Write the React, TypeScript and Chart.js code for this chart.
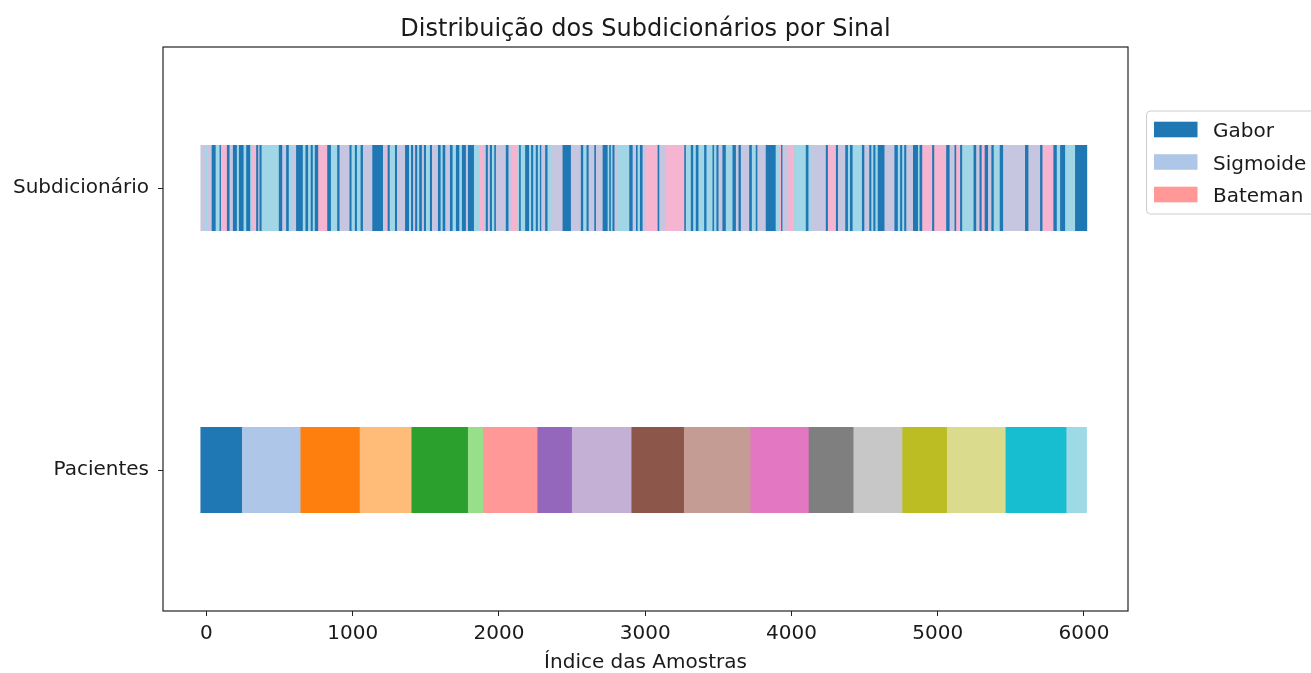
import React, { useEffect, useRef } from 'react';
import { Chart, registerables } from 'chart.js';

Chart.register(...registerables);

const chartTitle = 'Distribuição dos Subdicionários por Sinal';
const xAxisTitle = 'Índice das Amostras';
const rowLabels = ['Subdicionário', 'Pacientes'];
const xTickValues = [0, 1000, 2000, 3000, 4000, 5000, 6000];
const xMin = -297;
const xMax = 6301;

const legendLabels = ['Gabor', 'Sigmoide', 'Bateman'];
const legendColors = ['#1f77b4', '#aec7e8', '#ff9896'];

// samples per patient, in order along the index axis
const pacientesCounts = [284, 400, 405, 354, 386, 103, 372, 236, 407, 359, 454, 399, 306, 334, 305, 401, 416, 59];
const pacientesColors = [
  '#1f77b4', '#aec7e8', '#ff7f0e', '#ffbb78', '#2ca02c', '#98df8a', '#ff9896', '#9467bd', '#c5b0d5',
  '#8c564b', '#c49c94', '#e377c2', '#7f7f7f', '#c7c7c7', '#bcbd22', '#dbdb8d', '#17becf', '#9edae5',
];

// stripe colours seen in the sub-dictionary row
const stripeColors = ['#1f77b4', '#a0d6e6', '#f5b4cf', '#c6c6e0'];
// [stripe colour index, number of samples]
const subdictRuns: [number, number][] = [
  [3, 36], [1, 9], [3, 32], [0, 27], [1, 27], [0, 9], [2, 41], [0, 18], [3, 23], [0, 27],
  [1, 14], [0, 32], [1, 18], [0, 27], [1, 14], [2, 27], [0, 14], [3, 9], [0, 14], [1, 118],
  [0, 23], [3, 27], [0, 18], [1, 23], [3, 27], [0, 46], [1, 18], [0, 18], [1, 18], [0, 14],
  [1, 14], [0, 23], [2, 62], [0, 25], [1, 43], [0, 16], [3, 68], [0, 14], [1, 23], [0, 14],
  [1, 25], [0, 16], [3, 64], [0, 73], [3, 18], [2, 14], [0, 14], [1, 36], [0, 14], [3, 55],
  [0, 27], [1, 14], [0, 14], [3, 14], [0, 14], [1, 14], [0, 18], [3, 14], [0, 14], [1, 27],
  [0, 14], [3, 41], [0, 18], [1, 14], [0, 18], [3, 32], [0, 18], [1, 23], [0, 23], [1, 18],
  [0, 27], [3, 14], [0, 41], [1, 36],
  [2, 27], [3, 18], [0, 14], [3, 14], [0, 14], [1, 16], [0, 11], [3, 68], [0, 18], [3, 23],
  [2, 39], [1, 11], [0, 11], [1, 30], [0, 27], [1, 14], [0, 14], [1, 18], [0, 14], [1, 14],
  [0, 9], [3, 27], [0, 16], [1, 23], [3, 80], [0, 57], [3, 68], [0, 16], [1, 23], [0, 14],
  [3, 39], [0, 11], [3, 46], [0, 34], [1, 11], [0, 11], [1, 11], [0, 14], [3, 21], [1, 80],
  [0, 23], [3, 23], [0, 11], [1, 16], [0, 18], [3, 23], [2, 80], [0, 11], [3, 46], [2, 125],
  [0, 11], [1, 34], [0, 16], [1, 18], [0, 18], [1, 39], [0, 16], [1, 41], [0, 11], [1, 16],
  [0, 14], [3, 27], [0, 23], [1, 46], [0, 23], [3, 18], [0, 16], [3, 57], [0, 18], [1, 27],
  [0, 11], [3, 57], [0, 68], [1, 23],
  [2, 14], [0, 9], [3, 41], [2, 39], [1, 80], [0, 18], [1, 16], [3, 103], [0, 14], [2, 55],
  [0, 14], [3, 50], [0, 18], [1, 14], [0, 18], [1, 64], [0, 16], [3, 34], [0, 14], [1, 14],
  [0, 14], [1, 16], [0, 46], [3, 68], [0, 23], [1, 16], [0, 14], [1, 14], [0, 14], [3, 46],
  [0, 34], [1, 11], [0, 18], [2, 68], [0, 14], [2, 82], [0, 23], [3, 34], [0, 11], [2, 27],
  [0, 14], [1, 78], [0, 18], [3, 23], [0, 14], [2, 21], [0, 23], [3, 23], [0, 16], [1, 41],
  [0, 23], [3, 150], [0, 23], [3, 80], [0, 16], [2, 75], [0, 23], [1, 23], [0, 34], [1, 68],
  [0, 2],
];

// each sample is drawn as a square marker this many index units to each side
const markerHalfWidth = 41;

const FONT = "'DejaVu Sans', sans-serif";
const TEXT = '#1a1a1a';
const INK = '#222222';

type Seg = { x: [number, number]; y: string };

function buildSegments(counts: number[], row: string): Seg[] {
  const out: Seg[] = [];
  let start = 0;
  for (const n of counts) {
    out.push({ x: [start - markerHalfWidth, start + n - 1 + markerHalfWidth], y: row });
    start += n;
  }
  return out;
}

const decorPlugin = {
  id: 'decor',
  afterDraw(chart: any) {
    const { ctx, chartArea: a } = chart;
    ctx.save();
    // four spines
    ctx.strokeStyle = INK;
    ctx.lineWidth = 1.2;
    ctx.strokeRect(a.left, a.top, a.right - a.left, a.bottom - a.top);
    // title
    ctx.fillStyle = TEXT;
    ctx.font = `24px ${FONT}`;
    ctx.textAlign = 'center';
    ctx.textBaseline = 'alphabetic';
    ctx.fillText(chartTitle, (a.left + a.right) / 2, 36);
    // legend (outside the axes, right side)
    const lx = a.right + 18.5;
    const ly = a.top + 64;
    ctx.beginPath();
    ctx.roundRect(lx, ly, 220, 103, 4);
    ctx.fillStyle = 'rgba(255,255,255,0.8)';
    ctx.fill();
    ctx.strokeStyle = '#cccccc';
    ctx.lineWidth = 1;
    ctx.stroke();
    ctx.font = `20px ${FONT}`;
    ctx.textAlign = 'left';
    legendLabels.forEach((lab, i) => {
      const top = ly + 10.7 + i * 32.5;
      ctx.fillStyle = legendColors[i];
      ctx.fillRect(lx + 7.5, top, 43.5, 15.6);
      ctx.fillStyle = TEXT;
      ctx.fillText(lab, lx + 66.5, top + 15.6);
    });
    ctx.restore();
  },
};

export default function App() {
  const ref = useRef<HTMLCanvasElement | null>(null);

  useEffect(() => {
    const canvas = ref.current;
    if (!canvas) return;
    const subSegs = buildSegments(subdictRuns.map((r) => r[1]), rowLabels[0]);
    const pacSegs = buildSegments(pacientesCounts, rowLabels[1]);

    const tickFont = { family: FONT, size: 20 };
    const gridCfg = {
      display: true,
      drawOnChartArea: false,
      drawTicks: true,
      tickLength: 5,
      color: INK,
      lineWidth: 1,
    };

    const chart = new Chart(canvas, {
      type: 'bar',
      data: {
        labels: rowLabels,
        datasets: [
          {
            label: rowLabels[0],
            data: subSegs as any,
            backgroundColor: subdictRuns.map((r) => stripeColors[r[0]]),
            borderWidth: 0,
            grouped: false,
            categoryPercentage: 1,
            barPercentage: 0.305,
          } as any,
          {
            label: rowLabels[1],
            data: pacSegs as any,
            backgroundColor: pacientesColors,
            borderWidth: 0,
            grouped: false,
            categoryPercentage: 1,
            barPercentage: 0.305,
          } as any,
        ],
      },
      options: {
        indexAxis: 'y',
        animation: false,
        responsive: false,
        devicePixelRatio: 1,
        layout: { padding: { left: 0, right: 183, top: 47, bottom: 0 } },
        plugins: {
          legend: { display: false },
          tooltip: { enabled: false },
          title: { display: false },
        },
        scales: {
          x: {
            type: 'linear',
            min: xMin,
            max: xMax,
            afterBuildTicks: (scale: any) => {
              scale.ticks = xTickValues.map((v) => ({ value: v }));
            },
            afterFit: (scale: any) => {
              scale.height = 62;
            },
            ticks: {
              font: tickFont,
              color: TEXT,
              padding: 6,
              maxRotation: 0,
              autoSkip: false,
              callback: (v: any) => String(v),
            },
            grid: gridCfg,
            border: { display: false },
            title: {
              display: true,
              text: xAxisTitle,
              color: TEXT,
              font: { family: FONT, size: 20, lineHeight: 1 },
              padding: { top: 0, bottom: 0 },
            },
          },
          y: {
            type: 'category',
            offset: true,
            afterFit: (scale: any) => {
              scale.width = 163;
            },
            ticks: { font: tickFont, color: TEXT, padding: 9 },
            grid: { ...gridCfg, offset: false },
            border: { display: false },
          },
        },
      } as any,
      plugins: [decorPlugin],
    });

    return () => chart.destroy();
  }, []);

  return (
    <div style={{ position: 'fixed', left: 0, top: 0, width: 1311, height: 673, background: '#ffffff' }}>
      <canvas ref={ref} width={1311} height={673} style={{ display: 'block', width: 1311, height: 673 }} />
    </div>
  );
}
